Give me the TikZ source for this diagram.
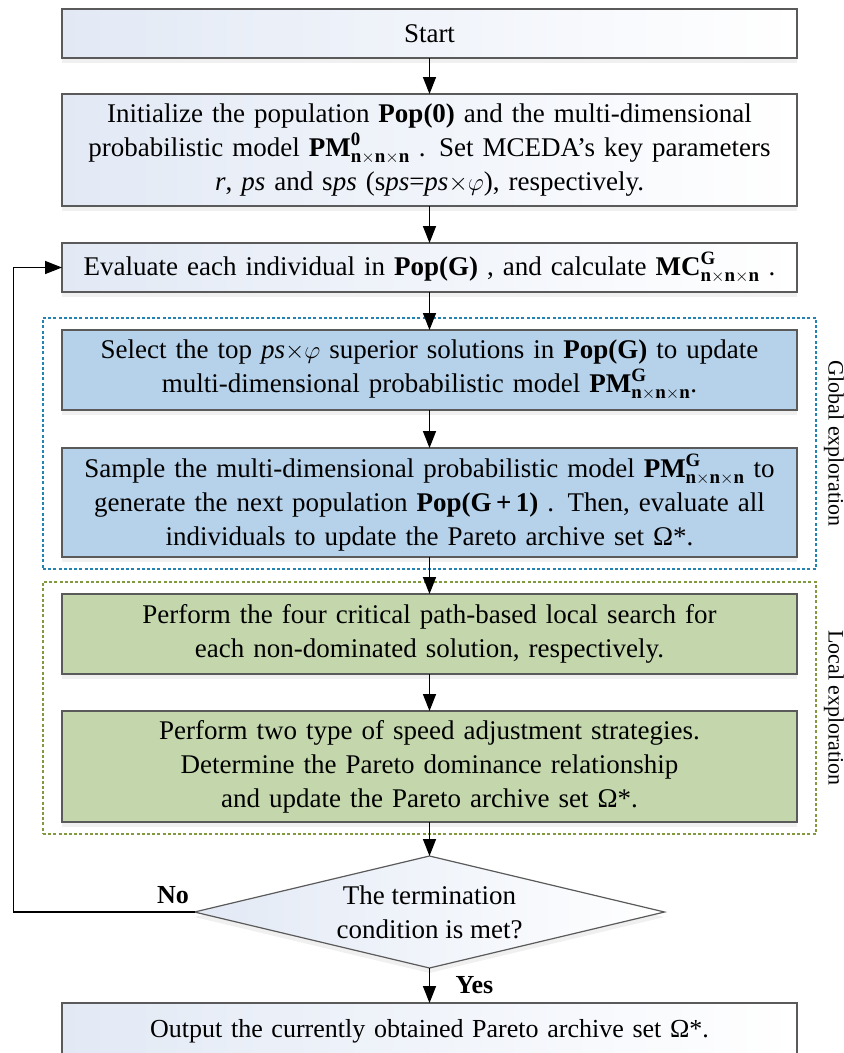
\documentclass[tikz,border=0pt]{standalone}
\usepackage{amsmath}
\usepackage{fontspec}
\setmainfont{Liberation Serif}
\usepackage{tikz}
\usetikzlibrary{shapes.geometric,arrows.meta,positioning,fit,shadows}

\definecolor{boxfill}{HTML}{E2E9F5}
\definecolor{bluefill}{HTML}{B6D1EA}
\definecolor{greenfill}{HTML}{C3D6AC}
\definecolor{blueframe}{HTML}{2383B3}
\definecolor{greenframe}{HTML}{82993F}
\definecolor{edgegray}{HTML}{5A5A5A}

\newcommand{\PMmodel}[1]{\mathbf{PM}^{\mathbf{#1}}_{\mathbf{n\times n\times n}}}

\begin{document}
\begin{tikzpicture}[
    x=1pt, y=-1pt,
    node distance=36pt,
    font=\fontsize{27}{34}\selectfont,
    block/.style={rectangle, draw=edgegray, line width=1.2pt, outer sep=0pt, minimum width=735pt, text width=728pt, align=center,
        inner xsep=2pt, drop shadow={opacity=0.12, shadow xshift=0pt, shadow yshift=-5pt}},
    box/.style={block, left color=boxfill, right color=white},
    bluebox/.style={block, fill=bluefill},
    greenbox/.style={block, fill=greenfill},
    decision/.style={diamond, draw=edgegray, line width=1.2pt, outer sep=0pt, aspect=4.2, minimum width=470pt, minimum height=112pt,
        inner sep=0pt, align=center, left color=boxfill, right color=white,
        drop shadow={opacity=0.12, shadow xshift=0pt, shadow yshift=-5pt}},
    frame/.style={draw=#1, line width=1.6pt, dash pattern=on 3pt off 2.2pt, inner xsep=19pt, inner ysep=12pt},
    sidelabel/.style={font=\fontsize{22}{26}\selectfont, rotate=-90, anchor=south, inner sep=0pt},
    arrow/.style={-{Triangle[length=17pt,width=13pt]}, line width=1.6pt}
]
    \useasboundingbox (0,0) rectangle (844,1053);

    \node[box, minimum height=49pt] (start) at (429.5,33.5) {Start};
    \node[box, minimum height=112pt, below=of start] (init) {Initialize the population \textbf{Pop(0)} and the multi-dimensional\\
        probabilistic model $\PMmodel{0}$ . Set MCEDA’s key parameters\\
        \textit{r}, \textit{ps} and s\textit{ps} (s\textit{ps}=\textit{ps}$\times\varphi$), respectively.};
    \node[box, minimum height=49pt, below=37pt of init] (eval) {Evaluate each individual in \textbf{Pop(G)} , and calculate $\mathbf{MC}^{\mathbf{G}}_{\mathbf{n\times n\times n}}$ .};
    \node[bluebox, minimum height=80pt, below=38pt of eval] (select) {Select the top \textit{ps}$\times\varphi$ superior solutions in \textbf{Pop(G)} to update\\
        multi-dimensional probabilistic model $\PMmodel{G}$.};
    \node[bluebox, minimum height=109pt, below=38pt of select] (sample) {Sample the multi-dimensional probabilistic model $\PMmodel{G}$ to\\
        generate the next population \textbf{Pop(G\,+\,1)} . Then, evaluate all\\
        individuals to update the Pareto archive set Ω*.};
    \node[greenbox, minimum height=80pt, below=37pt of sample] (search) {Perform the four critical path-based local search for\\
        each non-dominated solution, respectively.};
    \node[greenbox, minimum height=111pt, below=37pt of search] (speed) {Perform two type of speed adjustment strategies.\\
        Determine the Pareto dominance relationship\\
        and update the Pareto archive set Ω*.};
    \node[decision, below=34pt of speed] (cond) {The termination\\condition is met?};
    \node[box, minimum height=56pt, below=35pt of cond, font=\fontsize{26}{30}\selectfont] (out) {Output the currently obtained Pareto archive set Ω*.};

    % exploration frames
    \node[frame=blueframe, fit=(select)(sample)] (global) {};
    \node[frame=greenframe, fit=(search)(speed)] (local) {};
    \node[sidelabel] at ([xshift=7pt]global.east) {Global exploration};
    \node[sidelabel] at ([xshift=7pt]local.east) {Local exploration};

    \draw[arrow] (start) -- (init);
    \draw[arrow] (init) -- (eval);
    \draw[arrow] (eval) -- (select);
    \draw[arrow] (select) -- (sample);
    \draw[arrow] (sample) -- (search);
    \draw[arrow] (search) -- (speed);
    \draw[arrow] (speed) -- (cond);
    \draw[arrow] (cond) -- node[right=22pt, font=\bfseries\fontsize{26}{28}\selectfont] {Yes} (out);
    \draw[arrow] (cond.west) -- ++(-181,0) |- (eval.west);
    \node[font=\bfseries\fontsize{26}{28}\selectfont, above left=5pt and 2pt of cond.west] (no) {No};
\end{tikzpicture}
\end{document}
